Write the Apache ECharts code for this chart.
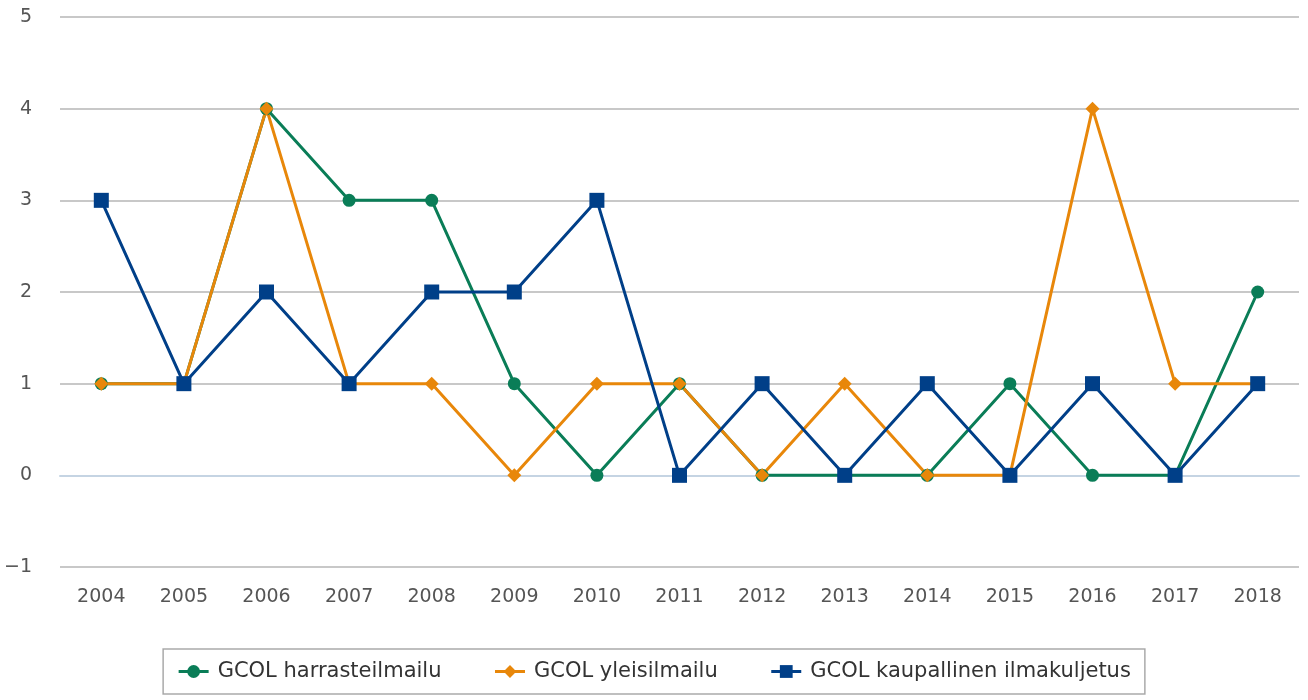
<!DOCTYPE html>
<html>
<head>
<meta charset="utf-8">
<script src="https://cdn.jsdelivr.net/npm/echarts@6/dist/echarts.min.js"></script>
<style>
  html, body { margin: 0; padding: 0; background: #fff; }
  #chart { width: 1308px; height: 700px; }
</style>
</head>
<body>
<div id="chart"></div>
<script>
var years = ["2004", "2005", "2006", "2007", "2008", "2009", "2010", "2011", "2012", "2013", "2014", "2015", "2016", "2017", "2018"];
var harrasteilmailu = [1, 1, 4, 3, 3, 1, 0, 1, 0, 0, 0, 1, 0, 0, 2];
var yleisilmailu = [1, 1, 4, 1, 1, 0, 1, 1, 0, 1, 0, 0, 4, 1, 1];
var kaupallinen = [3, 1, 2, 1, 2, 2, 3, 0, 1, 0, 1, 0, 1, 0, 1];

var font = "DejaVu Sans";

var chart = echarts.init(document.getElementById("chart"));
chart.setOption({
    animation: false,
    textStyle: {fontFamily: font},
    grid: {left: 60, right: 9, top: 17, bottom: 133, outerBoundsMode: "none"},
    xAxis: {
        type: "category",
        data: years,
        boundaryGap: true,
        axisLine: {lineStyle: {color: "#c5d4e3", width: 2}},
        axisTick: {length: 16, lineStyle: {color: "#c5d4e3", width: 2}},
        axisLabel: {fontSize: 19, color: "#555", margin: 21}
    },
    yAxis: {
        type: "value",
        min: -1,
        max: 5,
        interval: 1,
        axisLine: {show: false},
        axisTick: {show: false},
        splitLine: {lineStyle: {color: "#c8c8c8", width: 2}},
        axisLabel: {
            fontSize: 19, color: "#555", margin: 28,
            formatter: function (v) { return String(v).replace("-", "\u2212"); }
        }
    },
    legend: {
        left: "center",
        top: 649,
        orient: "horizontal",
        borderColor: "#aaa",
        borderWidth: 1.5,
        padding: [12, 14, 12, 14],
        itemGap: 52,
        itemWidth: 30,
        itemHeight: 16,
        lineStyle: {width: 3},
        textStyle: {fontSize: 21, color: "#333", fontFamily: font, padding: [0, 0, 0, 4]},
        data: ["GCOL harrasteilmailu", "GCOL yleisilmailu", "GCOL kaupallinen ilmakuljetus"]
    },
    series: [{
        name: "GCOL harrasteilmailu",
        type: "line",
        data: harrasteilmailu,
        symbol: "circle",
        symbolSize: 13,
        color: "#0a7d57",
        lineStyle: {width: 3}
    }, {
        name: "GCOL yleisilmailu",
        type: "line",
        data: yleisilmailu,
        symbol: "diamond",
        symbolSize: 14,
        color: "#e8870a",
        lineStyle: {width: 3}
    }, {
        name: "GCOL kaupallinen ilmakuljetus",
        type: "line",
        data: kaupallinen,
        symbol: "rect",
        symbolSize: 15,
        color: "#003f88",
        lineStyle: {width: 3}
    }]
});
</script>
</body>
</html>
